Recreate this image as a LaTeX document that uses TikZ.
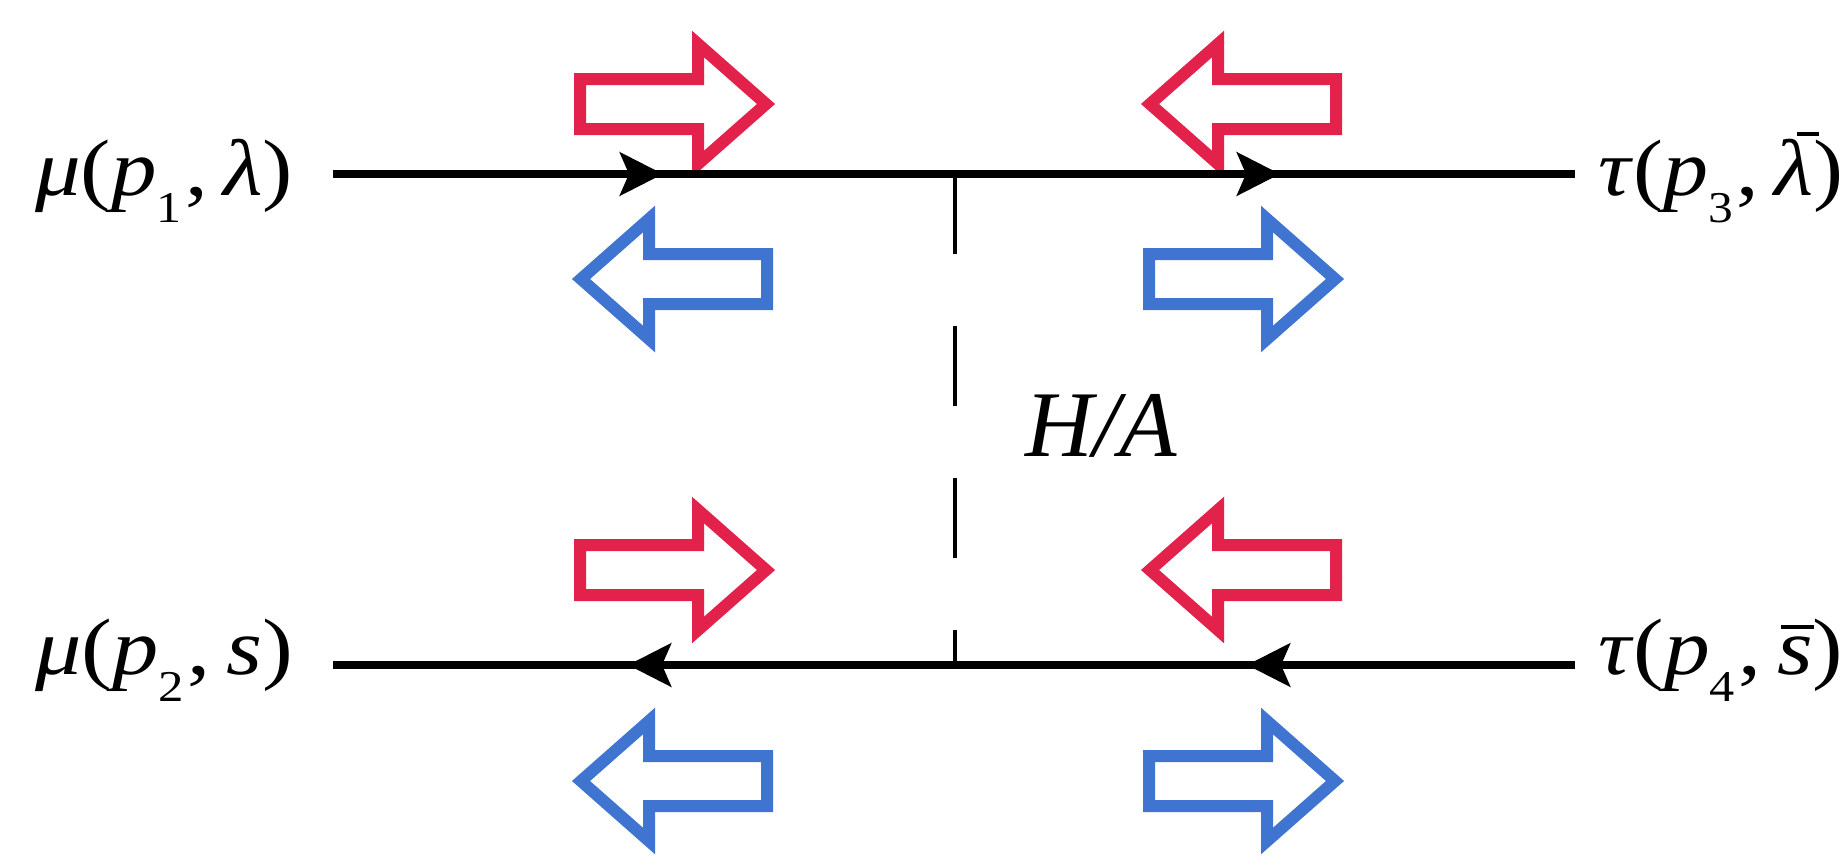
\documentclass[tikz,border=0pt]{standalone}
\usepackage{fontspec}
\setmainfont{Liberation Serif}
\usetikzlibrary{arrows.meta,decorations.markings}
\definecolor{redc}{RGB}{226,34,74}
\definecolor{bluec}{RGB}{63,116,208}
\newcommand\lowsub[1]{\raisebox{-27pt}{\fontsize{44}{44}\selectfont #1}\kern0.04em}
\newcommand\fitw[2]{\resizebox{#1}{\height}{#2}}
\newcommand\barlam{\makebox[0pt][l]{\hspace{0.25em}\rule[0.74em]{0.25em}{0.05em}}\textit{λ}}
\newcommand\bars{\makebox[0pt][l]{\hspace{0.04em}\rule[0.56em]{0.36em}{0.05em}}\textit{s}}
\begin{document}
\begin{tikzpicture}[x=1pt,y=-1pt,
  fa/.tip={Stealth[length=43pt,width=43pt,inset=9pt]},
  fline/.style={line width=8pt,black},
  higgs/.style={line width=4pt,black,dash pattern=on 80pt off 72pt},
  midarrows/.style 2 args={postaction={decorate,decoration={markings,
      mark=at position #1 with {\arrow{fa}},
      mark=at position #2 with {\arrow{fa}}}}},
  lbl/.style={inner sep=0pt,anchor=base west,font=\fontsize{80}{84}\selectfont},
  blockarrow/.pic={\draw[line width=12pt,line join=miter,miter limit=10]
     (0,-25) -- (118,-25) -- (118,-60) -- (186,0) -- (118,60) -- (118,25) -- (0,25) -- cycle;},
  ]
\useasboundingbox (0,0) rectangle (1845,855);
% block arrows
\pic[color=redc] at (580,104) {blockarrow};
\pic[color=bluec,xscale=-1] at (767,279) {blockarrow};
\pic[color=redc,xscale=-1] at (1336,104) {blockarrow};
\pic[color=bluec] at (1149,279) {blockarrow};
\pic[color=redc] at (580,570) {blockarrow};
\pic[color=bluec,xscale=-1] at (767,781) {blockarrow};
\pic[color=redc,xscale=-1] at (1336,570) {blockarrow};
\pic[color=bluec] at (1149,781) {blockarrow};
% fermion lines and propagator
\coordinate (t1) at (333,174);
\coordinate (t2) at (1575,174);
\coordinate (b1) at (333,665);
\coordinate (b2) at (1575,665);
\coordinate (v1) at (955,174);
\coordinate (v2) at (955,665);
\draw[higgs] (v1) -- (v2);
\draw[fline,midarrows={0.2657}{0.7625}] (t1) -- (t2);
\draw[fline,midarrows={0.2641}{0.7625}] (b2) -- (b1);
% labels
\node[lbl] (mu1) at (35,195) {\fitw{258pt}{\textit{μ}(\textit{p}\lowsub{1},\kern0.17em\textit{λ})}};
\node[lbl] (tau1) at (1598,195) {\fitw{245pt}{\textit{τ}(\textit{p}\lowsub{3},\kern0.17em\barlam)}};
\node[lbl] (mu2) at (35,674) {\fitw{258pt}{\textit{μ}(\textit{p}\lowsub{2},\kern0.17em\textit{s})}};
\node[lbl] (tau2) at (1598,674) {\fitw{245pt}{\textit{τ}(\textit{p}\lowsub{4},\kern0.17em\bars)}};
\node[inner sep=0pt,anchor=base west,font=\fontsize{94}{98}\selectfont] (ha) at (1025,456) {\textit{H/A}};
\end{tikzpicture}
\end{document}
